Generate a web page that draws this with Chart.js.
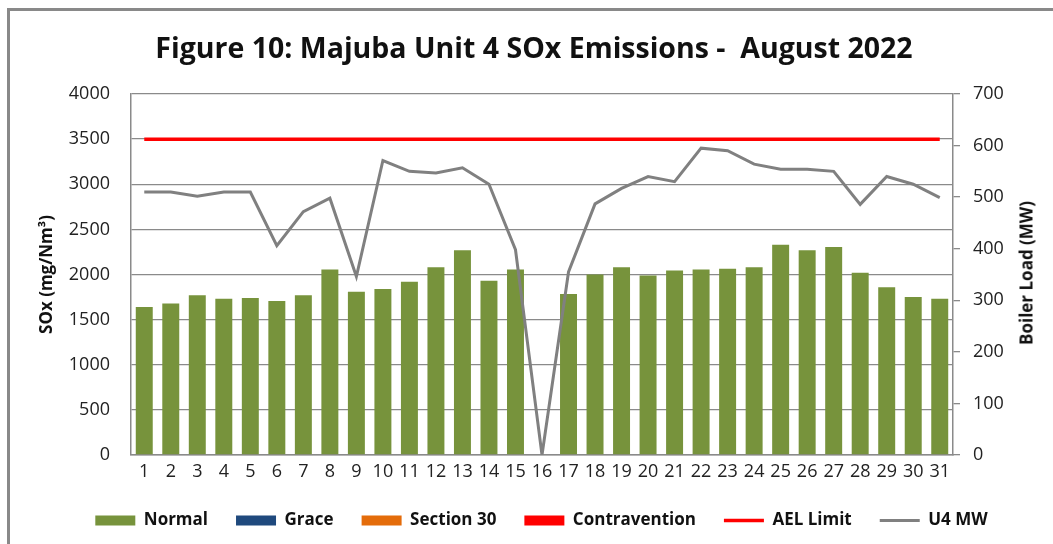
<!DOCTYPE html>
<html>
<head>
<meta charset="utf-8">
<script src="https://cdn.jsdelivr.net/npm/chart.js@4.4.1/dist/chart.umd.min.js"></script>
<style>
  html, body { margin: 0; padding: 0; background: #fff; }
  #wrap { position: relative; width: 1053px; height: 544px; overflow: hidden; }
  #frame { position: absolute; left: 7px; top: 8px; width: 1100px; height: 600px;
           border-left: 3px solid #898989; border-top: 3px solid #898989; }
  #title { position: absolute; left: 0; top: 29px; width: 1068px; text-align: center; white-space: pre;
           font: bold 28.5px 'Open Sans', sans-serif; color: #111; line-height: 36px; }
  #rtitle { position: absolute; left: 1026px; top: 273px; transform: translate(-50%, -50%) rotate(-90deg);
            font: bold 17px 'Open Sans', sans-serif; color: #111; white-space: nowrap; }
  canvas { position: absolute; left: 0; top: 0; }
</style>
</head>
<body>
<div id="wrap">
  <div id="frame"></div>
  <canvas id="c" width="1053" height="544"></canvas>
  <div id="title">Figure 10: Majuba Unit 4 SOx Emissions -  August 2022</div>
  <div id="rtitle">Boiler Load (MW)</div>
</div>
<script>
const days = ['1','2','3','4','5','6','7','8','9','10','11','12','13','14','15','16','17','18','19','20','21','22','23','24','25','26','27','28','29','30','31'];
const normal = [1640,1680,1770,1730,1740,1705,1770,2055,1810,1840,1920,2080,2270,1930,2055,0,1785,2000,2080,1990,2045,2055,2065,2080,2330,2270,2305,2020,1860,1750,1730];
const grace = [0,0,0,0,0,0,0,0,0,0,0,0,0,0,0,0,0,0,0,0,0,0,0,0,0,0,0,0,0,0,0];
const section30 = [0,0,0,0,0,0,0,0,0,0,0,0,0,0,0,0,0,0,0,0,0,0,0,0,0,0,0,0,0,0,0];
const contravention = [0,0,0,0,0,0,0,0,0,0,0,0,0,0,0,0,0,0,0,0,0,0,0,0,0,0,0,0,0,0,0];
const aelLimit = [3500,3500,3500,3500,3500,3500,3500,3500,3500,3500,3500,3500,3500,3500,3500,3500,3500,3500,3500,3500,3500,3500,3500,3500,3500,3500,3500,3500,3500,3500,3500];
const u4MW = [510,510,502,510,510,406,472,498,346,571,550,547,557,525,398,0,355,487,517,540,530,595,590,564,554,554,550,486,540,525,499];
const soxTicks = [0,500,1000,1500,2000,2500,3000,3500,4000];
const mwTicks = [0,100,200,300,400,500,600,700];

const GRID = '#8a8a8a';
const TXT = '#222';

function barSet(label, data, color) {
  return { type: 'bar', label, data, backgroundColor: color, borderWidth: 0,
           yAxisID: 'y', grouped: false, order: 2, pointStyle: 'rect',
           barPercentage: 0.64, categoryPercentage: 1.0 };
}

new Chart(document.getElementById('c'), {
  data: {
    labels: days,
    datasets: [
      barSet('Normal', normal, '#77933C'),
      barSet('Grace', grace, '#1F497D'),
      barSet('Section 30', section30, '#E46C0A'),
      barSet('Contravention', contravention, '#FF0000'),
      { type: 'line', label: 'AEL Limit', data: aelLimit, borderColor: '#FF0000', backgroundColor: '#FF0000',
        borderWidth: 3.5, pointRadius: 0, pointStyle: 'line', yAxisID: 'y', order: 1, tension: 0 },
      { type: 'line', label: 'U4 MW', data: u4MW, borderColor: '#808080', backgroundColor: '#808080',
        borderWidth: 3, pointRadius: 0, pointStyle: 'line', yAxisID: 'y1', order: 1, tension: 0 }
    ]
  },
  options: {
    responsive: false,
    animation: false,
    devicePixelRatio: 1,
    layout: { padding: { left: 30, right: 0, top: 94, bottom: 5 } },
    font: { family: "'Open Sans', sans-serif" },
    plugins: {
      title: { display: false },
      tooltip: { enabled: false },
      legend: {
        position: 'bottom',
        labels: {
          usePointStyle: true, pointStyleWidth: 40, boxHeight: 10, padding: 28,
          color: '#111', font: { family: "'Open Sans', sans-serif", size: 17, weight: 'bold' },
          sort: (a, b) => a.datasetIndex - b.datasetIndex
        }
      }
    },
    scales: {
      x: {
        offset: true,
        grid: { display: true, drawOnChartArea: false, drawTicks: false },
        border: { display: true, color: GRID, width: 1.5 },
        ticks: { autoSkip: false, maxRotation: 0, padding: 6, color: TXT,
                 font: { family: "'Open Sans', sans-serif", size: 18 } },
        afterFit: s => { s.height = 29; }
      },
      y: {
        position: 'left', min: 0, max: 4000,
        afterBuildTicks: s => { s.ticks = soxTicks.map(v => ({ value: v })); },
        grid: { color: GRID, lineWidth: 1.3, drawTicks: false },
        border: { display: true, color: GRID, width: 1.5 },
        ticks: { padding: 21, color: TXT, font: { family: "'Open Sans', sans-serif", size: 18 },
                 callback: v => String(v) },
        title: { display: true, text: 'SOx (mg/Nm³)', color: '#111', padding: { top: 7, bottom: 0 },
                 font: { family: "'Open Sans', sans-serif", size: 17, weight: 'bold' } },
        afterFit: s => { s.width = 101; }
      },
      y1: {
        position: 'right', min: 0, max: 700,
        afterBuildTicks: s => { s.ticks = mwTicks.map(v => ({ value: v })); },
        grid: { drawOnChartArea: false, drawTicks: true, tickLength: 7, color: GRID, lineWidth: 1.3 },
        border: { display: true, color: GRID, width: 1.5 },
        ticks: { padding: 13, color: TXT, font: { family: "'Open Sans', sans-serif", size: 18 },
                 callback: v => String(v) },
        afterFit: s => { s.width = 100; }
      }
    }
  }
});
</script>
</body>
</html>
